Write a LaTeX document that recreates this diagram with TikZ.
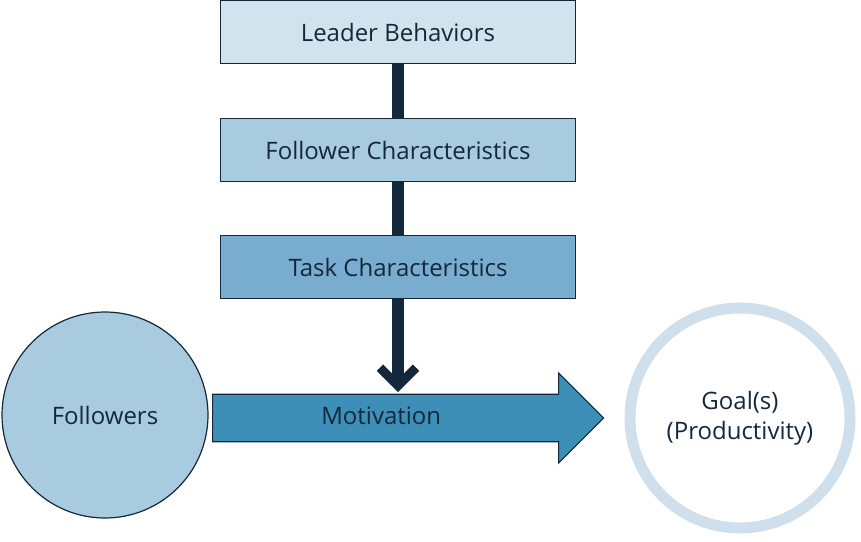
\documentclass[tikz,border=0pt]{standalone}
\usepackage{fontspec}
\setmainfont{Open Sans}
\usetikzlibrary{arrows.meta,shapes.arrows,positioning}
\definecolor{navy}{RGB}{20,40,60}
\definecolor{boxone}{RGB}{211,227,238}
\definecolor{boxtwo}{RGB}{169,203,224}
\definecolor{boxthree}{RGB}{120,173,208}
\definecolor{motiv}{RGB}{61,143,184}
\definecolor{ring}{RGB}{207,224,236}

\begin{document}
\begin{tikzpicture}[x=1pt, y=-1pt, font=\fontsize{24}{30}\selectfont]
    \tikzstyle{factor} = [rectangle, minimum width=355pt, minimum height=63pt, text centered, draw=navy, line width=1.2pt, text=navy]
    \useasboundingbox (0,0) rectangle (861,541);

    % Vertical line behind the boxes
    \coordinate (head) at (398,392);
    \draw [line width=12pt, navy, -{Straight Barb[length=18pt, width=36pt, line width=9pt]}] (398,32) -- (head);

    % Factors
    \node [factor, fill=boxone] (leader) at (398,32) {Leader Behaviors};
    \node [factor, fill=boxtwo] (follower) at (398,150) {Follower Characteristics};
    \node [factor, fill=boxthree] (task) at (398,267) {Task Characteristics};

    % Followers and goal
    \node [circle, minimum size=206pt, fill=boxtwo, draw=navy, line width=1.2pt, text=navy] (followers) at (105,415) {Followers};
    \node [circle, minimum size=220pt, draw=ring, line width=11pt, align=center, text=navy] (goal) at (740,418) {Goal(s)\\(Productivity)};

    % Motivation arrow
    \node [single arrow, fill=motiv, draw=navy, line width=1.2pt, minimum height=391pt, minimum width=90pt, single arrow head extend=21pt, inner xsep=0pt, inner ysep=12pt, text height=17pt, text depth=5pt, text=navy, anchor=west] (motivation) at (212,418) {\hspace*{-30pt}Motivation};
\end{tikzpicture}
\end{document}
